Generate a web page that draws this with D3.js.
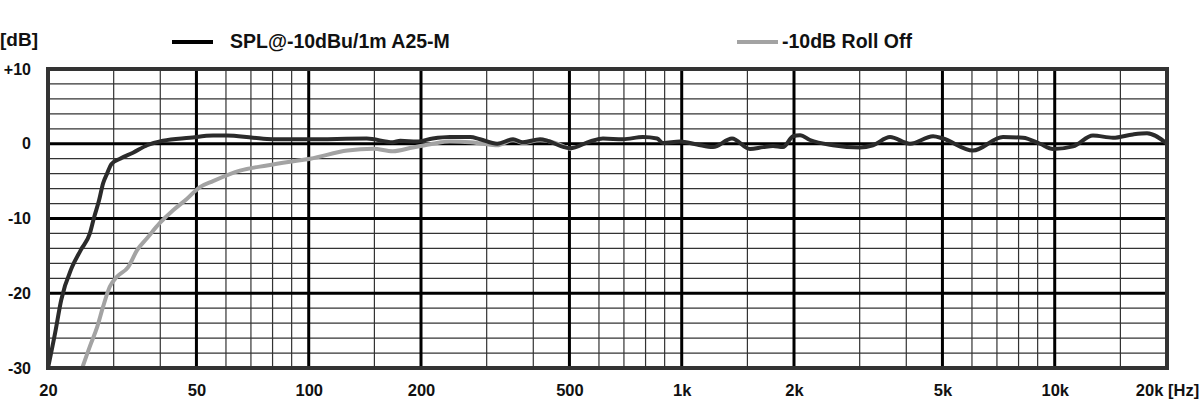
<!DOCTYPE html>
<html>
<head>
<meta charset="utf-8">
<script src="https://cdn.jsdelivr.net/npm/d3@7"></script>
<style>
  html, body { margin: 0; padding: 0; background: #fff; }
  svg { display: block; }
  text { font-family: "Liberation Sans", Arial, sans-serif; font-weight: bold; fill: #111; }
</style>
</head>
<body>
<svg id="chart" width="1200" height="413"></svg>
<script>
// ---- data ----
const seriesNames = ["SPL@-10dBu/1m A25-M", "-10dB Roll Off"];
const seriesColors = ["#2b2b2b", "#a3a3a3"];

const splFreq = [20, 20.9, 21.7, 23.2, 24.5, 25.9, 26.6, 27.4, 28.1, 28.8, 29.6, 31.2, 33.8, 36.9, 40.7, 48, 55.4, 60.4, 70.9, 80, 99, 143, 168, 176, 195, 215, 239, 271, 288, 320, 353, 375, 417, 502, 568, 615, 696, 787, 859, 891, 989, 1099, 1213, 1364, 1524, 1652, 1757, 1869, 1988, 2076, 2208, 2544, 3006, 3256, 3618, 4093, 4718, 5017, 6038, 7267, 8222, 9130, 9895, 11196, 12665, 14330, 16212, 17680, 20000];
const splDb = [-30, -25.3, -20.9, -16.5, -14.2, -12.0, -9.8, -7.6, -5.3, -4.0, -2.7, -2.0, -1.2, -0.2, 0.4, 0.8, 1.1, 1.1, 0.8, 0.6, 0.6, 0.7, 0.2, 0.4, 0.3, 0.7, 0.9, 0.9, 0.6, 0.0, 0.6, 0.2, 0.6, -0.6, 0.3, 0.7, 0.6, 0.9, 0.7, 0.1, 0.3, -0.1, -0.45, 0.7, -0.7, -0.45, -0.3, -0.45, 1.0, 1.15, 0.5, -0.2, -0.5, -0.2, 0.9, 0.0, 1.0, 0.7, -0.9, 0.9, 0.8, 0.0, -0.7, -0.35, 1.1, 0.8, 1.25, 1.4, 0.0];

const rollFreq = [24.7, 25.9, 27.1, 28.1, 29.3, 30.6, 32.8, 34.7, 36.9, 39.9, 43.3, 46.6, 51.1, 55.4, 65.4, 77.3, 89.1, 101, 127, 149, 168, 190, 215, 239, 271, 293, 320, 353, 375, 417, 502];
const rollDb = [-30, -27.1, -24.5, -21.8, -19.1, -17.8, -16.5, -14.2, -12.6, -10.6, -8.9, -7.6, -5.8, -5.0, -3.6, -2.9, -2.4, -2.0, -0.9, -0.67, -1.0, -0.5, 0.0, 0.3, 0.2, 0.0, -0.2, 0.5, 0.1, 0.5, -0.7];

const xTickValues = [20, 50, 100, 200, 500, 1000, 2000, 5000, 10000, 20000];
const xTickLabels = ["20", "50", "100", "200", "500", "1k", "2k", "5k", "10k", "20k [Hz]"];
const xMajorGrid = [50, 100, 200, 500, 1000, 2000, 5000, 10000];
const xMinorGrid = [30, 40, 60, 70, 80, 90, 150, 300, 400, 600, 700, 800, 900, 1500, 3000, 4000, 6000, 7000, 8000, 9000, 15000];
const yTickValues = [10, 0, -10, -20, -30];
const yTickLabels = ["+10", "0", "-10", "-20", "-30"];
const yMajorGrid = [0, -10, -20];
const yMinorGrid = [8, 6, 4, 2, -2, -4, -6, -8, -12, -14, -16, -18, -22, -24, -26, -28];
const yUnit = "[dB]";

// ---- layout ----
const plotL = 48, plotR = 1167, plotT = 69, plotB = 368;
const svg = d3.select("#chart");
const x = d3.scaleLog().domain([20, 20000]).range([plotL, plotR]);
const y = d3.scaleLinear().domain([-30, 10]).range([plotB, plotT]);

const grid = svg.append("g");
grid.selectAll("line.vmin").data(xMinorGrid).join("line")
  .attr("x1", d => x(d)).attr("x2", d => x(d)).attr("y1", plotT).attr("y2", plotB)
  .attr("stroke", "#333").attr("stroke-width", 1.2);
grid.selectAll("line.hmin").data(yMinorGrid).join("line")
  .attr("y1", d => y(d)).attr("y2", d => y(d)).attr("x1", plotL).attr("x2", plotR)
  .attr("stroke", "#333").attr("stroke-width", 1.2);
grid.selectAll("line.vmaj").data(xMajorGrid).join("line")
  .attr("x1", d => x(d)).attr("x2", d => x(d)).attr("y1", plotT).attr("y2", plotB)
  .attr("stroke", "#000").attr("stroke-width", 3);
grid.selectAll("line.hmaj").data(yMajorGrid).join("line")
  .attr("y1", d => y(d)).attr("y2", d => y(d)).attr("x1", plotL).attr("x2", plotR)
  .attr("stroke", "#000").attr("stroke-width", 3);

// curves
const line = d3.line().x(d => x(d[0])).y(d => y(d[1])).curve(d3.curveMonotoneX);
const rollData = rollFreq.map((f, i) => [f, rollDb[i]]);
const splData = splFreq.map((f, i) => [f, splDb[i]]);
svg.append("path").datum(rollData).attr("d", line)
  .attr("fill", "none").attr("stroke", seriesColors[1]).attr("stroke-width", 4)
  .attr("stroke-linejoin", "round").attr("stroke-linecap", "round");
svg.append("path").datum(splData).attr("d", line)
  .attr("fill", "none").attr("stroke", seriesColors[0]).attr("stroke-width", 4)
  .attr("stroke-linejoin", "round").attr("stroke-linecap", "round");

// border
svg.append("rect").attr("x", plotL).attr("y", plotT).attr("width", plotR - plotL).attr("height", plotB - plotT)
  .attr("fill", "none").attr("stroke", "#333").attr("stroke-width", 4);

// axes
const xAxis = d3.axisBottom(x).tickValues(xTickValues)
  .tickFormat((d, i) => xTickLabels[i]).tickSize(0).tickPadding(16);
const gx = svg.append("g").attr("transform", `translate(0,${plotB})`).call(xAxis);
gx.select(".domain").remove();
gx.selectAll("text").style("font-size", "16.5px").style("font-family", "'Liberation Sans', Arial, sans-serif")
  .style("font-weight", "bold").attr("fill", "#111");

const yAxis = d3.axisLeft(y).tickValues(yTickValues)
  .tickFormat((d, i) => yTickLabels[i]).tickSize(0).tickPadding(17);
const gy = svg.append("g").attr("transform", `translate(${plotL},0)`).call(yAxis);
gy.select(".domain").remove();
gy.selectAll("text").style("font-size", "16px").style("font-family", "'Liberation Sans', Arial, sans-serif")
  .style("font-weight", "bold").attr("fill", "#111");

svg.append("text").attr("x", 0).attr("y", 46).style("font-size", "19px").text(yUnit);

// legend
const legendX = [172, 737];
const legend = svg.append("g");
seriesNames.forEach((name, i) => {
  legend.append("line").attr("x1", legendX[i]).attr("x2", legendX[i] + 41)
    .attr("y1", 42).attr("y2", 42).attr("stroke", i === 0 ? "#000" : seriesColors[1]).attr("stroke-width", 4);
  legend.append("text").attr("x", legendX[i] + (i === 0 ? 58 : 45)).attr("y", 48)
    .style("font-size", "19.5px").text(name);
});
</script>
</body>
</html>
